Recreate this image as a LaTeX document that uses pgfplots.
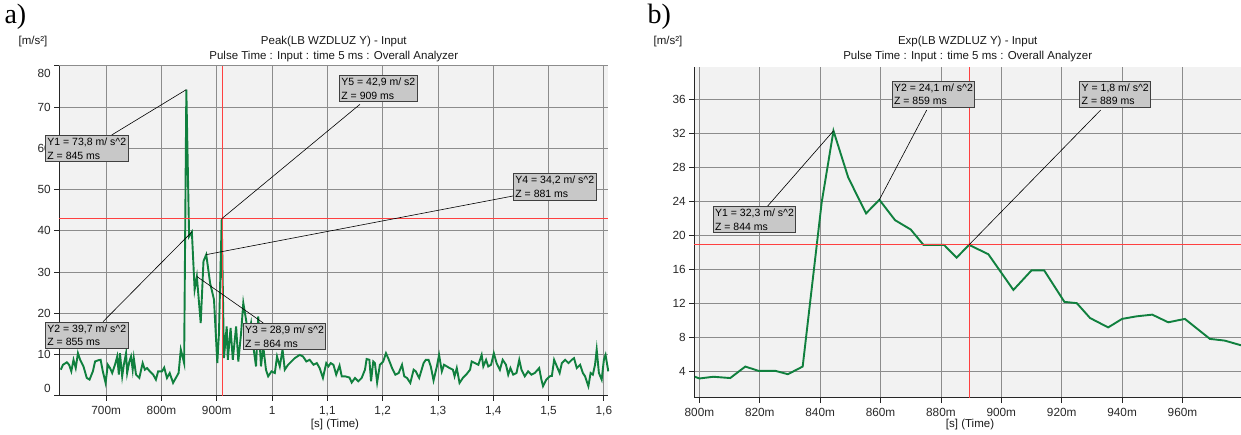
\documentclass[border=0pt]{standalone}
\usepackage{fontspec}
\setmainfont{Liberation Sans}
\newfontfamily\serifab{Liberation Serif}
\usepackage{pgfplots}
\pgfplotsset{compat=1.18}

\definecolor{sig}{RGB}{16,128,62}
\definecolor{cur}{RGB}{255,64,64}
\definecolor{bgp}{RGB}{242,242,242}
\definecolor{grd}{RGB}{140,140,140}
\definecolor{boxf}{RGB}{200,200,200}
\definecolor{txt}{RGB}{40,40,40}

\pgfplotsset{
  meter/.style={
    scale only axis, clip=false, anchor=south west,
    axis background/.style={fill=bgp},
    axis x line*=bottom, axis y line*=left,
    axis line style={draw=black!85, line width=0.9pt, -},
    grid=major, major grid style={draw=grd, line width=0.8pt},
    tick align=outside, major tick length=5pt,
    tick style={draw=black!85, line width=0.8pt},
    tick label style={font=\fontsize{11.8}{13}\selectfont, text=txt},
    xticklabel style={yshift=-2.5pt},
    /pgf/number format/assume math mode=true,
  },
}
\tikzset{
  cbox/.style={draw=black!75, fill=boxf, line width=0.8pt, inner xsep=2pt,
    inner ysep=2.5pt, align=left, anchor=north west,
    font=\fontsize{10.5}{13.5}\selectfont},
  lead/.style={black, line width=0.6pt},
  ttl/.style={font=\fontsize{11.5}{13}\selectfont, text=black!90},
}

\begin{document}
\begin{tikzpicture}
\path[use as bounding box] (0,0) rectangle (1241pt,-435pt);

% ---- a) Peak
\begin{axis}[meter, at={(59.3pt,-395.7pt)}, width=549pt, height=330pt,
  xmin=0.6153, xmax=1.608, ymin=0, ymax=80,
  xtick={0.7,0.8,0.9,1.0,1.1,1.2,1.3,1.4,1.5,1.6},
  xticklabels={700m,800m,900m,1,{1,1},{1,2},{1,3},{1,4},{1,5},{1,6}},
  ytick={0,10,20,30,40,50,60,70,80},
  yticklabels={\raisebox{7.5pt}[\height][\depth]{0},10,20,30,40,50,60,70,\raisebox{-7.5pt}[\height][\depth]{80}},
]
\addplot[sig, line width=1.9pt] coordinates {
(0.618,6.3) (0.622,7.5) (0.629,8.1) (0.633,7.5) (0.637,5.9) (0.641,8.7) (0.645,6.7) (0.649,10.3) (0.653,8.7)
(0.659,7.1) (0.665,4.3) (0.670,3.9) (0.676,5.9) (0.680,8.3) (0.686,8.6) (0.690,8.7) (0.694,5.9) (0.699,3.1)
(0.703,7.5) (0.707,6.7) (0.711,5.5) (0.716,7.5) (0.720,9.5) (0.723,5.1) (0.725,10.3) (0.729,4.7) (0.732,7.5)
(0.736,10.3) (0.738,5.5) (0.742,8.3) (0.745,9.5) (0.748,6.3) (0.750,9.1) (0.754,5.1) (0.760,4.3) (0.766,7.9)
(0.770,6.3) (0.774,6.7) (0.779,5.9) (0.785,5.1) (0.790,3.9) (0.794,5.9)
(0.801,5.9) (0.805,6.8) (0.810,4.3) (0.815,5.5) (0.821,3.1) (0.831,5.5) (0.835,11.2) (0.841,7.9)
(0.845,74.2) (0.850,38.6) (0.855,39.7) (0.860,25.7) (0.864,28.9) (0.871,17.6) (0.876,32.6) (0.881,34.2)
(0.888,27.3) (0.895,23.3) (0.901,7.9) (0.904,15.2) (0.909,42.9) (0.913,9.1) (0.918,16.8) (0.920,8.7)
(0.925,16.4) (0.929,8.7)
(0.935,16.8) (0.939,8.3) (0.944,15.2) (0.948,22.5) (0.953,18.4) (0.957,14.4) (0.962,17.6) (0.966,12.0)
(0.971,7.1) (0.975,19.2) (0.980,7.1) (0.984,12.0) (0.989,6.3) (0.993,4.7) (0.999,5.9) (1.005,5.5)
(1.009,9.5) (1.014,7.1) (1.019,11.2) (1.023,6.3) (1.029,7.5) (1.035,8.3) (1.041,9.1) (1.050,9.9)
(1.056,9.5) (1.062,8.3) (1.068,8.7)
(1.075,7.5) (1.081,7.9) (1.086,6.7) (1.092,4.3) (1.098,7.9) (1.102,7.1) (1.106,7.9) (1.111,7.5)
(1.116,5.1) (1.122,7.3) (1.126,4.7) (1.132,4.7) (1.140,4.4) (1.144,3.2) (1.150,4.3) (1.156,3.5)
(1.162,4.3) (1.168,6.3) (1.171,8.9) (1.176,8.7) (1.179,3.5) (1.183,8.3) (1.186,7.9) (1.190,3.2)
(1.195,7.5) (1.201,8.3) (1.206,10.3) (1.210,9.1)
(1.217,6.7) (1.223,5.1) (1.229,5.5) (1.235,7.5) (1.239,4.7) (1.244,4.3) (1.250,3.1) (1.256,6.3)
(1.260,5.9) (1.266,4.3) (1.274,7.9) (1.278,8.7) (1.283,8.7) (1.287,7.1) (1.292,3.7) (1.298,7.1)
(1.302,9.9) (1.307,5.9) (1.311,7.5) (1.316,7.1) (1.321,6.7) (1.327,6.3) (1.330,4.7) (1.334,6.7)
(1.339,3.1) (1.345,4.3) (1.351,5.1)
(1.358,6.3) (1.361,8.3) (1.367,7.9) (1.373,7.5) (1.379,9.9) (1.382,7.1) (1.387,8.7) (1.391,7.1)
(1.396,7.5) (1.401,10.3) (1.406,7.9) (1.412,6.3) (1.417,8.7) (1.423,7.5) (1.427,5.1) (1.431,6.7)
(1.436,5.1) (1.442,5.5) (1.447,8.7) (1.451,6.3) (1.457,4.7) (1.463,5.9) (1.469,5.1) (1.475,5.5)
(1.483,6.7) (1.487,3.9) (1.490,2.3)
(1.496,3.9) (1.502,4.7) (1.506,4.8) (1.510,8.7) (1.515,7.1) (1.520,5.5) (1.524,7.9) (1.530,8.7)
(1.536,7.9) (1.542,8.7) (1.546,9.1) (1.551,6.7) (1.557,7.5) (1.562,5.5) (1.566,4.7) (1.572,2.3)
(1.576,5.5) (1.580,5.1) (1.584,7.5) (1.587,11.2) (1.591,5.5) (1.596,3.9) (1.600,8.7) (1.603,9.9)
(1.608,5.9)
};
% cursors
\addplot[cur, line width=0.9pt] coordinates {(0.910,0) (0.910,80)};
\addplot[cur, line width=0.9pt] coordinates {(0.6153,42.9) (1.608,42.9)};
\coordinate (a1) at (axis cs:0.845,74.2);
\coordinate (a2) at (axis cs:0.855,39.7);
\coordinate (a3) at (axis cs:0.864,28.9);
\coordinate (a4) at (axis cs:0.881,34.2);
\coordinate (a5) at (axis cs:0.909,42.9);
\end{axis}

% ---- b) Exp
\begin{axis}[meter, at={(694.3pt,-397.7pt)}, width=546.7pt, height=330.7pt,
  xmin=0.7983, xmax=0.9794, ymin=0.94, ymax=39.8,
  xtick={0.80,0.82,0.84,0.86,0.88,0.90,0.92,0.94,0.96},
  xticklabels={800m,820m,840m,860m,880m,900m,920m,940m,960m},
  ytick={4,8,12,16,20,24,28,32,36},
]
\addplot[sig, line width=1.9pt] coordinates {
(0.7985,3.4) (0.8000,3.2) (0.8046,3.4) (0.8102,3.25) (0.8152,4.6) (0.8195,4.1) (0.8251,4.1)
(0.8293,3.7) (0.8342,4.6) (0.8405,23.9) (0.8444,32.3) (0.8493,26.8) (0.8552,22.6) (0.8596,24.2)
(0.8648,21.8) (0.8700,20.7) (0.8742,18.9) (0.8810,18.9) (0.8852,17.4) (0.8893,18.9) (0.8957,17.8)
(0.9040,13.6) (0.9100,15.9) (0.9142,15.9) (0.9209,12.2) (0.9250,12.05) (0.9294,10.3) (0.9354,9.2)
(0.9400,10.2) (0.9448,10.5) (0.9500,10.7) (0.9553,9.8) (0.9608,10.2) (0.9691,7.85) (0.9740,7.65)
(0.9794,7.1)
};
\addplot[cur, line width=0.9pt] coordinates {(0.8893,0.94) (0.8893,39.8)};
\addplot[cur, line width=0.9pt] coordinates {(0.7983,18.9) (0.9794,18.9)};
\coordinate (b1) at (axis cs:0.8444,32.3);
\coordinate (b2) at (axis cs:0.8596,24.2);
\coordinate (b3) at (axis cs:0.8893,18.9);
\end{axis}

% titles and labels
\node[anchor=west, font=\serifab\fontsize{28}{30}\selectfont] at (1pt,-17pt) {a)};
\node[anchor=west, font=\serifab\fontsize{28}{30}\selectfont] at (644pt,-17pt) {b)};
\node[ttl] at (33pt,-42pt) {[m/s²]};
\node[ttl] at (668pt,-42pt) {[m/s²]};
\node[ttl] at (333.8pt,-42pt) {Peak(LB WZDLUZ Y) - Input};
\node[ttl] at (333.8pt,-57pt) {Pulse Time : Input : time 5 ms : Overall Analyzer};
\node[ttl] at (967.7pt,-42pt) {Exp(LB WZDLUZ Y) - Input};
\node[ttl] at (967.7pt,-57pt) {Pulse Time : Input : time 5 ms : Overall Analyzer};
\node[ttl] at (335pt,-425pt) {[s] (Time)};
\node[ttl] at (970pt,-425pt) {[s] (Time)};

% annotation leads and boxes, a)
\draw[lead] (111.7pt,-135pt) -- (a1);
\draw[lead] (103pt,-321.7pt) -- (a2);
\draw[lead] (263.3pt,-323pt) -- (a3);
\draw[lead] (513pt,-196pt) -- (a4);
\draw[lead] (360pt,-104.3pt) -- (a5);
\node[cbox] at (45pt,-135pt) {Y1 = 73,8 m/ s\textasciicircum2\\Z = 845 ms};
\node[cbox] at (45pt,-321.7pt) {Y2 = 39,7 m/ s\textasciicircum2\\Z = 855 ms};
\node[cbox] at (242.7pt,-323pt) {Y3 = 28,9 m/ s\textasciicircum2\\Z = 864 ms};
\node[cbox] at (513pt,-173.3pt) {Y4 = 34,2 m/ s\textasciicircum2\\Z = 881 ms};
\node[cbox] at (339pt,-75pt) {Y5 = 42,9 m/ s2\\Z = 909 ms};

% annotation leads and boxes, b)
\draw[lead] (767.7pt,-206pt) -- (b1);
\draw[lead] (926.7pt,-110pt) -- (b2);
\draw[lead] (1100.7pt,-110pt) -- (b3);
\node[cbox] at (712.7pt,-206pt) {Y1 = 32,3 m/ s\textasciicircum2\\Z = 844 ms};
\node[cbox] at (891.7pt,-80.6pt) {Y2 = 24,1 m/ s\textasciicircum2\\Z = 859 ms};
\node[cbox] at (1079.3pt,-80.6pt) {Y = 1,8 m/ s\textasciicircum2\\Z = 889 ms};
\end{tikzpicture}
\end{document}
